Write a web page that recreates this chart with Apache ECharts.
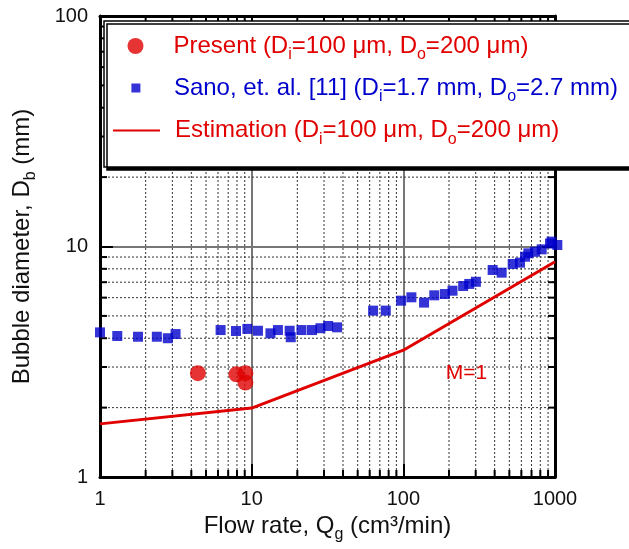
<!DOCTYPE html>
<html>
<head>
<meta charset="utf-8">
<title>Bubble diameter vs flow rate</title>
<script src="https://cdn.jsdelivr.net/npm/echarts@6/dist/echarts.min.js"></script>
<style>
    html, body { margin: 0; padding: 0; background: #fff; }
    #chart { width: 629px; height: 549px; }
</style>
</head>
<body>
<div id="chart"></div>
<script>
// Present (Di=100 um, Do=200 um)
const presentQ = [4.42, 7.93, 9.09, 9.09];
const presentD = [2.82, 2.79, 2.82, 2.57];

// Sano et al. [11] (Di=1.7 mm, Do=2.7 mm)
const sanoQ = [1.0, 1.30, 1.78, 2.37, 2.80, 3.15, 6.24, 7.88, 9.37, 11.0, 13.3, 14.9, 17.8, 18.1,
    21.3, 25.0, 28.4, 31.9, 36.6, 63.2, 76.6, 96.7, 113, 137, 160, 188, 211, 248, 272, 301,
    388, 445, 526, 588, 634, 667, 738, 817, 927, 950, 1036];
const sanoD = [4.24, 4.09, 4.06, 4.06, 4.00, 4.17, 4.34, 4.30, 4.39, 4.31, 4.20, 4.34, 4.31, 4.04,
    4.34, 4.34, 4.42, 4.52, 4.46, 5.27, 5.27, 5.82, 6.02, 5.71, 6.14, 6.22, 6.43, 6.74, 6.88, 7.03,
    7.91, 7.70, 8.40, 8.51, 9.03, 9.34, 9.49, 9.72, 10.3, 10.5, 10.15];

// Estimation (Di=100 um, Do=200 um)
const estQ = [1, 10, 100, 1000];
const estD = [1.70, 1.99, 3.55, 8.59];

// "M=1" annotation
const noteQ = 261;
const noteD = 2.81;

// minor grid / tick values
const xMinor = [2, 3, 4, 5, 6, 7, 8, 9, 20, 30, 40, 50, 60, 70, 80, 90, 200, 300, 400, 500, 600, 700, 800, 900];
const yMinor = [2, 3, 4, 5, 6, 7, 8, 9, 20, 30, 40, 50, 60, 70, 80, 90];

const FONT = "'Liberation Sans', Arial, Helvetica, sans-serif";
const RED = "#e00000";
const BLUE = "#0000cc";

const zip = (a, b) => a.map((v, i) => [v, b[i]]);

const chart = echarts.init(document.getElementById("chart"));

// main text + subscript
function richFor(color) {
    return {
        t: { fontSize: 24, color: color, fontFamily: FONT, lineHeight: 34 },
        s: { fontSize: 16, color: color, fontFamily: FONT, lineHeight: 16, verticalAlign: "bottom" },
    };
}

function minorX(params, api) {
    const v = api.value(0);
    const top = api.coord([v, 100]);
    const bot = api.coord([v, 1]);
    const x = bot[0];
    return {
        type: "group",
        children: [
            { type: "line", shape: { x1: x, y1: top[1], x2: x, y2: bot[1] }, style: { stroke: "#333", lineWidth: 1, lineDash: [2, 2] } },
            { type: "line", shape: { x1: x, y1: bot[1], x2: x, y2: bot[1] - 7 }, style: { stroke: "#000", lineWidth: 2 } },
            { type: "line", shape: { x1: x, y1: top[1], x2: x, y2: top[1] + 7 }, style: { stroke: "#000", lineWidth: 2 } },
        ],
    };
}

function minorY(params, api) {
    const v = api.value(1);
    const left = api.coord([1, v]);
    const right = api.coord([1000, v]);
    const y = left[1];
    return {
        type: "group",
        children: [
            { type: "line", shape: { x1: left[0], y1: y, x2: right[0], y2: y }, style: { stroke: "#333", lineWidth: 1, lineDash: [2, 2] } },
            { type: "line", shape: { x1: left[0], y1: y, x2: left[0] + 7, y2: y }, style: { stroke: "#000", lineWidth: 2 } },
            { type: "line", shape: { x1: right[0], y1: y, x2: right[0] - 7, y2: y }, style: { stroke: "#000", lineWidth: 2 } },
        ],
    };
}

const frameAxis = {
    axisLine: { show: true, onZero: false, lineStyle: { color: "#000", width: 3 } },
    axisTick: { show: true, inside: true, length: 13, lineStyle: { color: "#000", width: 2 } },
};

const option = {
    animation: false,
    textStyle: { fontFamily: FONT },
    grid: { left: 100, right: 74, top: 16, bottom: 72, containLabel: false },
    graphic: [
        {
            type: "rect",
            z: 50,
            shape: { x: 104, y: 21, width: 600, height: 146 },
            style: {
                fill: "#fff", stroke: "#000", lineWidth: 1.5,
                shadowColor: "#000", shadowOffsetX: 3, shadowOffsetY: 3, shadowBlur: 0,
            },
        },
    ],
    legend: [
        {
            z: 60, selectedMode: false, padding: 0, orient: "vertical",
            left: 127.5, top: 34,
            itemWidth: 16, itemHeight: 16,
            data: [{ name: "present", icon: "circle" }],
            formatter: () => "{t|Present (D}{s|i}{t|=100 μm, D}{s|o}{t|=200 μm)}",
            textStyle: { padding: [0, 0, 0, 25], rich: richFor(RED) },
        },
        {
            z: 60, selectedMode: false, padding: 0, orient: "vertical",
            left: 131.4, top: 76,
            itemWidth: 9, itemHeight: 9,
            data: [{ name: "sano", icon: "rect" }],
            formatter: () => "{t|Sano, et. al. [11] (D}{s|i}{t|=1.7 mm, D}{s|o}{t|=2.7 mm)}",
            textStyle: { padding: [0, 0, 0, 28.5], rich: richFor(BLUE) },
        },
        {
            z: 60, selectedMode: false, padding: 0, orient: "vertical",
            left: 112, top: 118.5,
            itemWidth: 47, itemHeight: 14,
            data: [{ name: "estimation" }],
            itemStyle: { color: "rgba(0,0,0,0)", borderWidth: 0 },
            formatter: () => "{t|Estimation (D}{s|i}{t|=100 μm, D}{s|o}{t|=200 μm)}",
            textStyle: { padding: [0, 0, 0, 10], rich: richFor(RED) },
        },
    ],
    xAxis: [
        Object.assign({}, frameAxis, {
            type: "log", logBase: 10, min: 1, max: 1000, position: "bottom",
            axisLabel: { fontSize: 20, color: "#111", margin: 12, formatter: (v) => String(Math.round(v)) },
            splitLine: { show: true, lineStyle: { color: "#777", width: 2 } },
            name: "{t|Flow rate, Q}{s|g}{t| (cm³/min)}",
            nameLocation: "middle", nameGap: 31,
            nameTextStyle: { rich: richFor("#111") },
        }),
        Object.assign({}, frameAxis, {
            type: "log", logBase: 10, min: 1, max: 1000, position: "top",
            axisLabel: { show: false }, splitLine: { show: false },
        }),
    ],
    yAxis: [
        Object.assign({}, frameAxis, {
            type: "log", logBase: 10, min: 1, max: 100, position: "left",
            axisLabel: { fontSize: 20, color: "#111", margin: 12, formatter: (v) => String(Math.round(v)) },
            splitLine: { show: true, lineStyle: { color: "#777", width: 2 } },
            name: "{t|Bubble diameter, D}{s|b}{t| (mm)}",
            nameLocation: "middle", nameGap: 61,
            nameTextStyle: { rich: richFor("#111") },
        }),
        Object.assign({}, frameAxis, {
            type: "log", logBase: 10, min: 1, max: 100, position: "right",
            axisLabel: { show: false }, splitLine: { show: false },
        }),
    ],
    series: [
        {
            type: "custom", name: "xminor", silent: true, z: 1,
            renderItem: minorX,
            data: xMinor.map((v) => [v, 1]),
        },
        {
            type: "custom", name: "yminor", silent: true, z: 1,
            renderItem: minorY,
            data: yMinor.map((v) => [1, v]),
        },
        {
            name: "estimation", type: "line", symbol: "none", clip: false, z: 3,
            lineStyle: { color: RED, width: 3 },
            itemStyle: { color: RED },
            data: zip(estQ, estD),
            markPoint: {
                symbol: "rect", symbolSize: 1,
                itemStyle: { color: "rgba(0,0,0,0)" },
                label: { show: true, position: "inside", color: RED, fontSize: 21, fontFamily: FONT, formatter: "M=1" },
                data: [{ coord: [noteQ, noteD] }],
            },
        },
        {
            name: "sano", type: "scatter", symbol: "rect", symbolSize: 10, clip: false, z: 4,
            itemStyle: { color: BLUE },
            data: zip(sanoQ, sanoD),
        },
        {
            name: "present", type: "scatter", symbol: "circle", symbolSize: 16, clip: false, z: 5,
            itemStyle: { color: RED },
            data: zip(presentQ, presentD),
        },
    ],
};

chart.setOption(option);
window.addEventListener("resize", () => chart.resize());
</script>
</body>
</html>
